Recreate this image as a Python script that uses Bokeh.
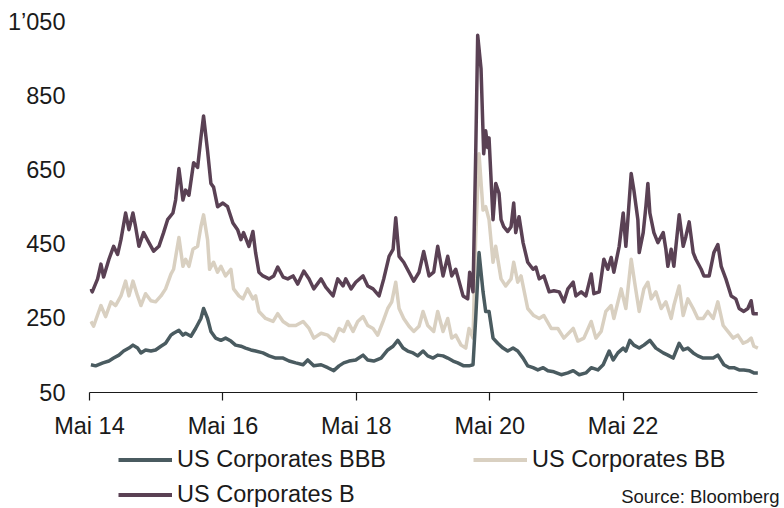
import pandas as pd
from bokeh.plotting import figure
from bokeh.layouts import column
from bokeh.models import Range1d, FixedTicker, Legend, LegendItem, Label, CustomJSTickFormatter
from bokeh.embed import file_html
from bokeh.resources import INLINE

# ---- data (time as decimal years, values in bp) ----
bbb_t = [2014.35, 2014.42, 2014.53, 2014.62, 2014.69, 2014.77, 2014.84, 2014.92, 2014.98, 2015.05, 2015.10, 2015.17,
         2015.25, 2015.32, 2015.40, 2015.47, 2015.55, 2015.59, 2015.67, 2015.73, 2015.77, 2015.85, 2015.92, 2016.00,
         2016.04, 2016.10, 2016.15, 2016.22, 2016.30, 2016.37, 2016.45, 2016.52, 2016.60, 2016.67, 2016.75, 2016.82,
         2016.93, 2017.02, 2017.12, 2017.23, 2017.32, 2017.42, 2017.53, 2017.60, 2017.69, 2017.80, 2017.90, 2017.99,
         2018.07, 2018.14, 2018.22, 2018.32, 2018.43, 2018.50, 2018.59, 2018.70, 2018.80, 2018.88, 2018.95, 2019.03,
         2019.10, 2019.18, 2019.25, 2019.33, 2019.40, 2019.48, 2019.55, 2019.63, 2019.70, 2019.78, 2019.85, 2019.94,
         2020.02, 2020.08, 2020.12, 2020.17, 2020.23, 2020.27, 2020.32, 2020.38, 2020.45, 2020.53, 2020.60, 2020.68,
         2020.75, 2020.83, 2020.90, 2020.98, 2021.05, 2021.13, 2021.20, 2021.29, 2021.40, 2021.50, 2021.58, 2021.67,
         2021.77, 2021.85, 2021.95, 2022.03, 2022.12, 2022.18, 2022.25, 2022.33, 2022.37, 2022.43, 2022.49, 2022.57,
         2022.64, 2022.73, 2022.82, 2022.93, 2023.00, 2023.08, 2023.17, 2023.23, 2023.30, 2023.38, 2023.45, 2023.53,
         2023.60, 2023.68, 2023.75, 2023.84, 2023.92, 2023.99, 2024.07, 2024.14, 2024.22, 2024.29, 2024.35]
bbb_v = [125, 122, 130, 135, 143, 151, 162, 170, 178, 170, 157, 165,
         162, 165, 175, 183, 205, 210, 218, 205, 210, 202, 223, 250,
         277, 250, 215, 197, 191, 197, 189, 178, 175, 170, 165, 162,
         157, 149, 143, 143, 135, 130, 125, 138, 122, 125, 117, 109,
         122, 130, 135, 138, 151, 138, 135, 143, 165, 175, 191, 170,
         162, 157, 149, 162, 149, 143, 151, 149, 143, 135, 130, 122,
         122, 125, 250, 428, 322, 269, 269, 197, 183, 170, 162, 170,
         162, 143, 122, 117, 111, 117, 109, 106, 98, 103, 109, 98,
         103, 117, 111, 125, 162, 138, 157, 170, 162, 191, 178, 170,
         178, 191, 170, 157, 151, 143, 183, 165, 170, 157, 149, 143,
         143, 143, 151, 125, 117, 117, 111, 111, 109, 103, 103]

bb_t = [2014.35, 2014.39, 2014.50, 2014.57, 2014.65, 2014.72, 2014.80, 2014.87, 2014.92, 2014.98, 2015.05, 2015.10,
        2015.17, 2015.25, 2015.32, 2015.40, 2015.47, 2015.55, 2015.59, 2015.67, 2015.73, 2015.77, 2015.82, 2015.88,
        2015.95, 2016.00, 2016.04, 2016.10, 2016.13, 2016.19, 2016.25, 2016.30, 2016.37, 2016.45, 2016.49, 2016.57,
        2016.63, 2016.70, 2016.78, 2016.82, 2016.87, 2016.97, 2017.08, 2017.15, 2017.23, 2017.32, 2017.42, 2017.53,
        2017.62, 2017.69, 2017.80, 2017.90, 2017.99, 2018.07, 2018.14, 2018.20, 2018.28, 2018.35, 2018.43, 2018.50,
        2018.58, 2018.65, 2018.73, 2018.80, 2018.86, 2018.92, 2018.97, 2019.04, 2019.12, 2019.19, 2019.27, 2019.33,
        2019.40, 2019.49, 2019.55, 2019.63, 2019.70, 2019.76, 2019.82, 2019.90, 2019.97, 2020.02, 2020.08, 2020.12,
        2020.17, 2020.23, 2020.27, 2020.32, 2020.38, 2020.42, 2020.50, 2020.57, 2020.65, 2020.69, 2020.75, 2020.80,
        2020.90, 2020.99, 2021.07, 2021.14, 2021.25, 2021.35, 2021.44, 2021.58, 2021.65, 2021.74, 2021.85, 2021.92,
        2022.00, 2022.07, 2022.15, 2022.19, 2022.30, 2022.37, 2022.45, 2022.51, 2022.57, 2022.64, 2022.70, 2022.75,
        2022.82, 2022.90, 2022.97, 2023.05, 2023.09, 2023.17, 2023.23, 2023.30, 2023.38, 2023.45, 2023.53, 2023.60,
        2023.68, 2023.75, 2023.83, 2023.90, 2023.98, 2024.05, 2024.13, 2024.20, 2024.25, 2024.29, 2024.35]
bb_v = [242, 229, 285, 255, 295, 285, 311, 351, 311, 351, 311, 285,
        317, 298, 295, 311, 330, 370, 383, 469, 391, 410, 391, 437,
        445, 498, 530, 463, 383, 402, 375, 391, 365, 383, 330, 311,
        303, 330, 303, 311, 269, 250, 242, 263, 242, 231, 231, 242,
        223, 197, 210, 205, 189, 223, 215, 242, 215, 242, 255, 231,
        223, 205, 242, 277, 295, 348, 277, 250, 229, 215, 229, 269,
        231, 215, 269, 215, 250, 197, 205, 178, 170, 223, 197, 471,
        695, 543, 552, 517, 402, 445, 357, 338, 357, 402, 348, 365,
        277, 258, 250, 258, 223, 223, 197, 223, 189, 197, 242, 197,
        215, 269, 285, 250, 330, 277, 410, 338, 269, 330, 348, 303,
        322, 277, 295, 250, 285, 338, 258, 303, 277, 250, 250, 269,
        250, 295, 231, 215, 197, 205, 183, 189, 197, 175, 170]

b_t = [2014.35, 2014.37, 2014.45, 2014.50, 2014.54, 2014.62, 2014.69, 2014.75, 2014.80, 2014.87, 2014.92, 2014.98,
       2015.02, 2015.07, 2015.14, 2015.22, 2015.29, 2015.37, 2015.44, 2015.50, 2015.58, 2015.62, 2015.67, 2015.73,
       2015.77, 2015.82, 2015.89, 2015.95, 2016.00, 2016.04, 2016.10, 2016.15, 2016.19, 2016.25, 2016.33, 2016.40,
       2016.48, 2016.55, 2016.60, 2016.64, 2016.72, 2016.78, 2016.82, 2016.87, 2016.93, 2017.02, 2017.09, 2017.15,
       2017.23, 2017.30, 2017.38, 2017.45, 2017.54, 2017.62, 2017.69, 2017.80, 2017.87, 2017.98, 2018.05, 2018.13,
       2018.17, 2018.25, 2018.32, 2018.43, 2018.50, 2018.58, 2018.67, 2018.74, 2018.82, 2018.88, 2018.92, 2018.97,
       2019.04, 2019.12, 2019.19, 2019.27, 2019.34, 2019.42, 2019.49, 2019.55, 2019.63, 2019.70, 2019.76, 2019.82,
       2019.93, 2020.00, 2020.03, 2020.08, 2020.12, 2020.15, 2020.20, 2020.24, 2020.27, 2020.30, 2020.32, 2020.38,
       2020.42, 2020.47, 2020.50, 2020.54, 2020.60, 2020.65, 2020.69, 2020.72, 2020.77, 2020.83, 2020.90, 2020.98,
       2021.02, 2021.07, 2021.14, 2021.22, 2021.29, 2021.37, 2021.44, 2021.50, 2021.58, 2021.62, 2021.70, 2021.77,
       2021.85, 2021.89, 2021.97, 2022.04, 2022.10, 2022.15, 2022.19, 2022.27, 2022.33, 2022.37, 2022.40, 2022.45,
       2022.49, 2022.55, 2022.57, 2022.63, 2022.67, 2022.70, 2022.73, 2022.79, 2022.85, 2022.93, 2022.97, 2023.00,
       2023.05, 2023.09, 2023.17, 2023.23, 2023.27, 2023.32, 2023.38, 2023.42, 2023.50, 2023.54, 2023.62, 2023.69,
       2023.75, 2023.80, 2023.87, 2023.95, 2024.02, 2024.07, 2024.14, 2024.20, 2024.25, 2024.28, 2024.35]
b_v = [330, 322, 357, 397, 362, 410, 445, 423, 463, 535, 490, 535,
       498, 445, 482, 455, 432, 445, 482, 517, 535, 570, 655, 570,
       597, 583, 671, 658, 738, 797, 703, 615, 605, 552, 562, 552,
       508, 490, 463, 482, 445, 485, 428, 375, 365, 357, 365, 389,
       362, 357, 365, 343, 378, 357, 330, 357, 335, 311, 357, 338,
       357, 330, 348, 365, 338, 330, 311, 357, 418, 437, 522, 418,
       402, 375, 351, 375, 431, 365, 375, 445, 365, 418, 365, 383,
       311, 303, 375, 322, 695, 1015, 925, 695, 757, 712, 738, 517,
       615, 588, 517, 498, 485, 498, 562, 482, 525, 455, 402, 383,
       389, 357, 365, 322, 325, 322, 295, 330, 348, 311, 322, 311,
       370, 317, 322, 410, 383, 415, 375, 445, 535, 445, 517, 642,
       597, 517, 428, 482, 552, 615, 535, 482, 455, 482, 437, 391,
       437, 391, 530, 445, 471, 511, 428, 410, 383, 365, 365, 428,
       450, 391, 357, 311, 303, 277, 269, 277, 298, 263, 263]

series_labels = ["US Corporates BBB", "US Corporates BB", "US Corporates B"]
series_colors = ["#4a5b60", "#d9d0c1", "#5a4154"]
tick_years = [2014, 2016, 2018, 2020, 2022]
y_ticks = [50, 250, 450, 650, 850, 1050]
source_text = "Source: Bloomberg"


def to_dt(ys):
    out = []
    for y in ys:
        yr = int(y)
        out.append(pd.Timestamp(f"{yr}-01-01") + pd.Timedelta(days=(y - yr) * 365.25))
    return out


def ms(ts):
    return ts.value / 1e6


FONT = "Liberation Sans"
TXT = "#1a1a1a"
LW = 3.5
FS = "23.5px"

W = 780
LEFT = 89
axis_start = ms(pd.Timestamp("2014-05-01"))
axis_end = ms(pd.Timestamp("2024-05-06"))
axis_px = 668                      # pixel length of the drawn axis line
ms_per_px = (axis_end - axis_start) / axis_px
x_end = axis_start + ms_per_px * (W - LEFT)

# ---------------- main chart ----------------
p = figure(width=W, height=441, x_axis_type="datetime", output_backend="svg", toolbar_location=None,
           x_range=Range1d(axis_start, x_end), y_range=Range1d(50, 1066),
           min_border_left=LEFT, min_border_right=0, min_border_top=16, min_border_bottom=46)
p.xgrid.visible = False
p.ygrid.visible = False
p.outline_line_color = None

n1 = min(len(bbb_t), len(bbb_v))
n2 = min(len(bb_t), len(bb_v))
n3 = min(len(b_t), len(b_v))
p.line(to_dt(bb_t[:n2]), bb_v[:n2], line_color=series_colors[1], line_width=LW, line_join="round")
p.line(to_dt(bbb_t[:n1]), bbb_v[:n1], line_color=series_colors[0], line_width=LW, line_join="round")
p.line(to_dt(b_t[:n3]), b_v[:n3], line_color=series_colors[2], line_width=LW, line_join="round")

# y axis: labels only
p.yaxis.ticker = FixedTicker(ticks=y_ticks)
p.yaxis.formatter = CustomJSTickFormatter(code="""
    if (tick >= 1000) { const r = String(tick % 1000).padStart(3, '0'); return Math.floor(tick/1000) + '\u2019' + r; }
    return String(tick);
""")
p.yaxis.axis_line_color = None
p.yaxis.major_tick_line_color = None
p.yaxis.minor_tick_line_color = None
p.yaxis.major_tick_out = 0
p.yaxis.major_tick_in = 0
p.yaxis.major_label_standoff = 24
p.yaxis.major_label_text_font = FONT
p.yaxis.major_label_text_font_size = FS
p.yaxis.major_label_text_color = TXT

# x axis
p.xaxis.bounds = (axis_start, axis_end)
p.xaxis.ticker = FixedTicker(ticks=[ms(pd.Timestamp(f"{y}-05-01")) for y in tick_years])
p.xaxis.formatter = CustomJSTickFormatter(code="""
    const d = new Date(tick);
    return 'Mai ' + String(d.getUTCFullYear()).slice(2);
""")
p.xaxis.axis_line_color = TXT
p.xaxis.axis_line_width = 1.2
p.xaxis.major_tick_line_color = TXT
p.xaxis.major_tick_line_width = 1.2
p.xaxis.major_tick_in = 0
p.xaxis.major_tick_out = 8
p.xaxis.minor_tick_line_color = None
p.xaxis.major_label_standoff = 12
p.xaxis.major_label_text_font = FONT
p.xaxis.major_label_text_font_size = FS
p.xaxis.major_label_text_color = TXT

# ---------------- legend strip ----------------
p2 = figure(width=W, height=67, output_backend="svg", toolbar_location=None,
            x_range=Range1d(0, 1), y_range=Range1d(0, 1),
            min_border_left=LEFT, min_border_right=0, min_border_top=0, min_border_bottom=0,
            x_axis_location=None, y_axis_location=None)
p2.xgrid.visible = False
p2.ygrid.visible = False
p2.outline_line_color = None
nan = float("nan")
lr = [p2.line(x=[nan], y=[nan], line_color=c, line_width=4) for c in series_colors]

legend = Legend(items=[LegendItem(label=series_labels[0], renderers=[lr[0]]),
                       LegendItem(label=series_labels[1], renderers=[lr[1]]),
                       LegendItem(label=series_labels[2], renderers=[lr[2]])],
                location=(118 - LEFT, 0), orientation="horizontal", ncols=2,
                glyph_width=54, glyph_height=27, label_standoff=5, label_height=27, label_width=288,
                spacing=8, padding=0, margin=0, border_line_alpha=0, background_fill_alpha=0,
                label_text_font=FONT, label_text_font_size=FS, label_text_color=TXT)
p2.add_layout(legend, "center")

src = Label(x=W - LEFT - 1, y=12, x_units="screen", y_units="screen", text=source_text,
            text_align="right", text_baseline="middle", text_font=FONT, text_font_size="18.5px",
            text_color=TXT)
p2.add_layout(src)

open("out.html", "w").write(file_html(column(p, p2, spacing=0), INLINE))
